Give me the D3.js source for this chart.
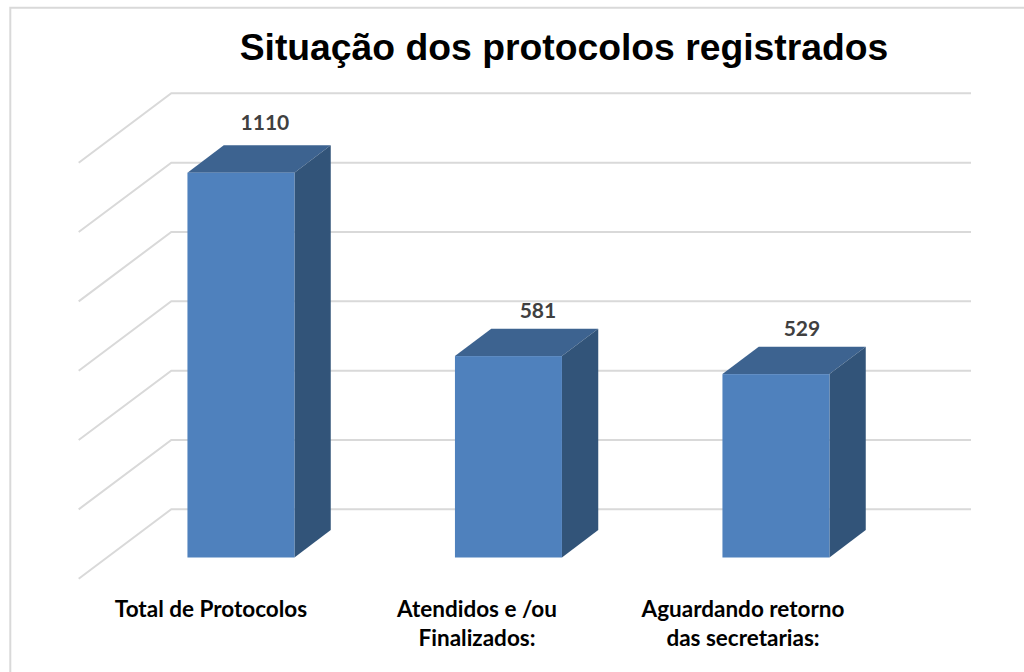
<!DOCTYPE html>
<meta charset="utf-8">
<title>Situação dos protocolos registrados</title>
<style>

html, body {
  margin: 0;
  background: #fff;
}

svg {
  display: block;
}

.title {
  font: bold 37.3px "Liberation Sans", Arial, sans-serif;
  fill: #000;
}

.value {
  font: bold 21px Lato, sans-serif;
  fill: #404040;
  text-anchor: middle;
}

.cat {
  font: bold 22.5px Lato, sans-serif;
  fill: #000;
  text-anchor: middle;
}

.grid {
  fill: none;
  stroke: #d9d9d9;
  stroke-width: 2;
}

</style>
<body>
<script src="https://d3js.org/d3.v7.min.js"></script>
<script>

var categories = [["Total de Protocolos"], ["Atendidos e /ou", "Finalizados:"], ["Aguardando retorno", "das secretarias:"]];
var values = [1110, 581, 529];
var yTicks = [0, 200, 400, 600, 800, 1000, 1200];

var width = 1024,
    height = 672;

// oblique offsets of the fake 3d box
var wallDx = 92.6, wallDy = -69.4,
    barDx = 28.5, barDy = -21.2,
    sideDx = 36.3, sideDy = -27.4;

var x = d3.scaleBand()
    .domain(d3.range(categories.length))
    .range([78.7, 881.2])
    .paddingInner(0.6)
    .paddingOuter(0.3);

// category labels sit on a slightly tighter step than the bars
var xLabel = d3.scaleBand()
    .domain(d3.range(categories.length))
    .range([78, 876]);

var y = d3.scaleLinear()
    .domain([0, 1200])
    .range([578.7, 162.7]);

var svg = d3.select("body").append("svg")
    .attr("width", width)
    .attr("height", height);

// frame, only left and top show
svg.append("path")
    .attr("d", "M10.3,672V7.7H1024")
    .attr("fill", "none")
    .attr("stroke", "#d9d9d9")
    .attr("stroke-width", 2);

svg.append("text")
    .attr("class", "title")
    .attr("x", 564)
    .attr("y", 60)
    .attr("text-anchor", "middle")
    .text("Situação dos protocolos registrados");

svg.selectAll(".grid")
    .data(yTicks)
  .enter().append("polyline")
    .attr("class", "grid")
    .attr("points", function(d) {
      var x0 = x.range()[0], y0 = y(d);
      return [[x0, y0], [x0 + wallDx, y0 + wallDy], [971, y0 + wallDy]].join(" ");
    });

var bar = svg.selectAll(".bar")
    .data(values)
  .enter().append("g")
    .attr("class", "bar")
    .attr("transform", function(d, i) { return "translate(" + (x(i) + barDx) + "," + barDy + ")"; });

var bw = x.bandwidth();

// top face
bar.append("path")
    .attr("fill", "#3d6390")
    .attr("d", function(d) {
      var t = y(d);
      return "M0," + t + "L" + sideDx + "," + (t + sideDy) + "H" + (bw + sideDx) + "L" + bw + "," + t + "Z";
    });

// side face
bar.append("path")
    .attr("fill", "#325479")
    .attr("d", function(d) {
      var t = y(d), b = y(0);
      return "M" + bw + "," + t + "L" + (bw + sideDx) + "," + (t + sideDy) + "V" + (b + sideDy) + "L" + bw + "," + b + "Z";
    });

// front face
bar.append("rect")
    .attr("fill", "#4f81bd")
    .attr("width", bw)
    .attr("y", function(d) { return y(d); })
    .attr("height", function(d) { return y(0) - y(d); });

// the labels were dragged by hand in the original, so they don't line up exactly
var labelNudgeX = [52.5, 58, 54.5],
    labelNudgeY = [-64, -59.5, -59.5];

svg.selectAll(".value")
    .data(values)
  .enter().append("text")
    .attr("class", "value")
    .attr("x", function(d, i) { return x(i) + bw / 2 + labelNudgeX[i]; })
    .attr("y", function(d, i) { return y(d) + labelNudgeY[i]; })
    .text(function(d) { return d; });

var cat = svg.selectAll(".cat")
    .data(categories)
  .enter().append("text")
    .attr("class", "cat")
    .attr("transform", function(d, i) { return "translate(" + (xLabel(i) + xLabel.bandwidth() / 2) + ",617)"; });

cat.selectAll("tspan")
    .data(function(d) { return d; })
  .enter().append("tspan")
    .attr("x", 0)
    .attr("y", function(d, i) { return i * 29; })
    .text(function(d) { return d; });

</script>
</body>
